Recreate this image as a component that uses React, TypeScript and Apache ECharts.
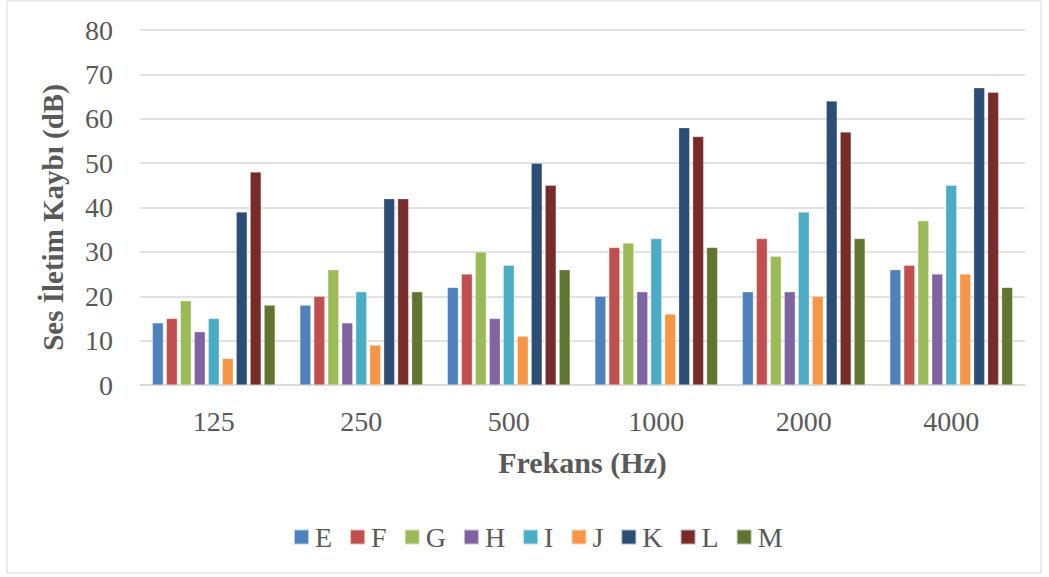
import React, { useEffect, useRef } from "react";
import * as echarts from "echarts";

const categories = ["125", "250", "500", "1000", "2000", "4000"];
const seriesNames = ["E", "F", "G", "H", "I", "J", "K", "L", "M"];
const E = [14, 18, 22, 20, 21, 26];
const F = [15, 20, 25, 31, 33, 27];
const G = [19, 26, 30, 32, 29, 37];
const H = [12, 14, 15, 21, 21, 25];
const I = [15, 21, 27, 33, 39, 45];
const J = [6, 9, 11, 16, 20, 25];
const K = [39, 42, 50, 58, 64, 67];
const L = [48, 42, 45, 56, 57, 66];
const M = [18, 21, 26, 31, 33, 22];
const seriesValues = [E, F, G, H, I, J, K, L, M];
const colors = ["#4F81BD", "#C0504D", "#9BBB59", "#8064A2", "#4BACC6", "#F79646", "#2C4D75", "#772C2A", "#5F7530"];
const yTicks = [0, 10, 20, 30, 40, 50, 60, 70, 80];

const FONT = "'Liberation Serif', 'Times New Roman', serif";

export default function App() {
  const ref = useRef<HTMLDivElement>(null);
  useEffect(() => {
    const chart = echarts.init(ref.current!, null, { renderer: "svg" });
    chart.setOption({
      animation: false,
      backgroundColor: "#fff",
      color: colors,
      graphic: [
        {
          type: "rect",
          shape: { x: 7, y: 1, width: 1034, height: 572 },
          style: { fill: "none", stroke: "#d9d9d9", lineWidth: 1 },
          silent: true,
        },
      ],
      grid: { left: 140, right: 24, top: 30, bottom: 192, containLabel: false },
      legend: {
        top: 518,
        left: 288,
        itemWidth: 15,
        itemHeight: 15,
        itemGap: 17,
        icon: "rect",
        textStyle: { fontFamily: FONT, fontSize: 28, color: "#595959", padding: [0, 0, 0, 1] },
        data: seriesNames,
      },
      xAxis: {
        type: "category",
        data: categories,
        name: "Frekans (Hz)",
        nameLocation: "middle",
        nameGap: 62,
        nameTextStyle: { fontFamily: FONT, fontSize: 30, fontWeight: "bold", color: "#595959" },
        axisLine: { lineStyle: { color: "#d9d9d9", width: 1.5 } },
        axisTick: { show: false },
        axisLabel: { fontFamily: FONT, fontSize: 28, color: "#595959", margin: 22 },
      },
      yAxis: {
        type: "value",
        min: yTicks[0],
        max: yTicks[yTicks.length - 1],
        interval: 10,
        name: "Ses İletim Kaybı (dB)",
        nameLocation: "middle",
        nameGap: 73,
        nameTextStyle: {
          fontFamily: FONT,
          fontSize: 29,
          fontWeight: "bold",
          color: "#595959",
          padding: [0, 20, 0, 0],
        },
        axisLine: { show: false },
        axisTick: { show: false },
        axisLabel: { fontFamily: FONT, fontSize: 28, color: "#595959", margin: 27 },
        splitLine: { lineStyle: { color: "#d9d9d9", width: 1.5 } },
      },
      series: seriesNames.map((n, i) => ({
        name: n,
        type: "bar",
        data: seriesValues[i],
        barWidth: 11,
        barGap: "27%",
        itemStyle: { color: colors[i], borderColor: "rgba(255,255,255,0.6)", borderWidth: 0.5 },
      })),
    });
    return () => chart.dispose();
  }, []);
  return (
    <div
      ref={ref}
      style={{ position: "fixed", left: 0, top: 0, width: 1049, height: 577 }}
    />
  );
}
